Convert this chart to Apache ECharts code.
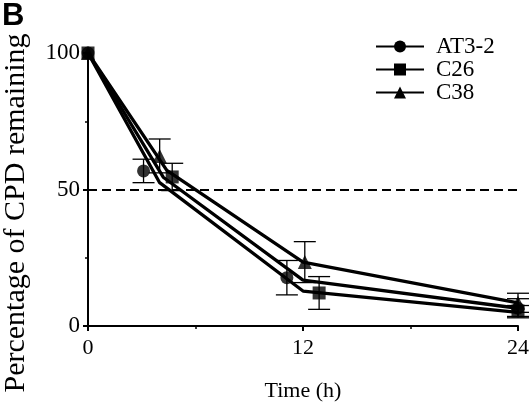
<!DOCTYPE html>
<html><head><meta charset="utf-8">
<script src="https://cdn.jsdelivr.net/npm/echarts@6/dist/echarts.min.js"></script>
<style>html,body{margin:0;padding:0;background:#fff}#c{width:531px;height:403px}</style>
</head><body><div id="c"></div>
<script>
// ---- data ----
const seriesNames = ['AT3-2', 'C26', 'C38'];
const seriesSymbols = ['circle', 'rect', 'triangle'];
// connecting lines [time (h), % remaining]
const lineAT32 = [[0, 100], [4.2, 54.5], [12, 16.8], [24, 6.5]];
const lineC26  = [[0, 100], [4.0, 52.5], [12, 12.8], [24, 5.0]];
const lineC38  = [[0, 100], [4.4, 57.0], [12, 23.4], [24, 8.5]];
// measured points [time (h, plotted), mean %, error]
const ptsAT32 = [[0, 100, 0], [3.1, 56.8, 4.3], [11.1, 17.7, 6.3], [24, 6.5, 3.5]];
const ptsC26  = [[0, 100, 0], [4.7, 54.6, 5.0], [12.9, 12.1, 6.0], [24, 5.5, 2.0]];
const ptsC38  = [[0, 100, 0], [4.0, 62.3, 6.2], [12.1, 23.4, 7.5], [24, 8.5, 3.5]];
const xTicks = [0, 12, 24];
const yTicks = [0, 50, 100];
const halfLevel = 50;

const lines = [lineAT32, lineC26, lineC38];
const pts = [ptsAT32, ptsC26, ptsC38];
const symSizes = [13, 13, 14];
const FONT = 'Liberation Serif';

function errRender(params, api) {
  const x = api.value(0), y = api.value(1), e = api.value(2);
  if (!e) return null;
  const t = api.coord([x, y + e]), b = api.coord([x, y - e]);
  const w = 11;
  const st = { stroke: '#000', lineWidth: 1.3 };
  return { type: 'group', children: [
    { type: 'line', shape: { x1: t[0], y1: t[1], x2: b[0], y2: b[1] }, style: st },
    { type: 'line', shape: { x1: t[0] - w, y1: t[1], x2: t[0] + w, y2: t[1] }, style: st },
    { type: 'line', shape: { x1: b[0] - w, y1: b[1], x2: b[0] + w, y2: b[1] }, style: st }
  ]};
}

const series = [];
seriesNames.forEach((n, i) => {
  series.push({
    name: n, type: 'line', data: lines[i], symbol: seriesSymbols[i], symbolSize: symSizes[i],
    showSymbol: false, lineStyle: { color: '#000', width: 3.3 }, itemStyle: { color: '#000' },
    z: 3, silent: true,
    markLine: i === 0 ? { silent: true, symbol: 'none', label: { show: false },
      lineStyle: { color: '#000', type: [9, 5], width: 1.8 }, data: [{ yAxis: halfLevel }] } : undefined
  });
});
seriesNames.forEach((n, i) => {
  series.push({ name: n + ' err', type: 'custom', data: pts[i], renderItem: errRender, z: 2, silent: true });
  series.push({ name: n + ' pts', type: 'scatter', data: pts[i].map(p => [p[0], p[1]]),
    symbol: seriesSymbols[i], symbolSize: symSizes[i], itemStyle: { color: '#000' }, z: 5, silent: true });
});

const chart = echarts.init(document.getElementById('c'));
chart.setOption({
  animation: false,
  backgroundColor: '#fff',
  grid: { left: 88, right: 13, top: 53, bottom: 77, containLabel: false, outerBoundsMode: 'none' },
  legend: {
    data: seriesNames, orient: 'vertical', left: 370, top: 30,
    itemWidth: 48, itemHeight: 15, itemGap: 0,
    textStyle: { fontFamily: FONT, fontSize: 23, lineHeight: 22, color: '#000', padding: [0, 0, 0, 7] }
  },
  xAxis: {
    type: 'value', min: xTicks[0], max: xTicks[xTicks.length - 1], interval: xTicks[1] - xTicks[0],
    axisLine: { lineStyle: { color: '#000', width: 2 } },
    axisTick: { show: true, inside: false, length: 5, lineStyle: { color: '#000', width: 2 } },
    minorTick: { show: true, splitNumber: 2, length: 3, lineStyle: { color: '#000', width: 1.5 } },
    splitLine: { show: false },
    axisLabel: { fontFamily: FONT, fontSize: 22, color: '#000', margin: 11 },
    name: 'Time (h)', nameLocation: 'middle', nameGap: 54,
    nameTextStyle: { fontFamily: FONT, fontSize: 22, color: '#000' }
  },
  yAxis: {
    type: 'value', min: yTicks[0], max: yTicks[yTicks.length - 1], interval: yTicks[1] - yTicks[0],
    axisLine: { show: true, lineStyle: { color: '#000', width: 2 } },
    axisTick: { show: true, inside: false, length: 5, lineStyle: { color: '#000', width: 2 } },
    minorTick: { show: true, splitNumber: 2, length: 3, lineStyle: { color: '#000', width: 1.5 } },
    splitLine: { show: false },
    axisLabel: { fontFamily: FONT, fontSize: 23, color: '#000', margin: 8 }
  },
  graphic: [
    { type: 'text', left: 2, top: 1, style: { text: 'B', font: 'bold 31px "Liberation Sans"', fill: '#000' } },
    { type: 'text', x: 16, y: 213, rotation: Math.PI / 2,
      style: { text: 'Percentage of CPD remaining', font: '30px "Liberation Serif"', fill: '#000',
        textAlign: 'center', textVerticalAlign: 'middle' } }
  ],
  series: series
});
</script></body></html>
